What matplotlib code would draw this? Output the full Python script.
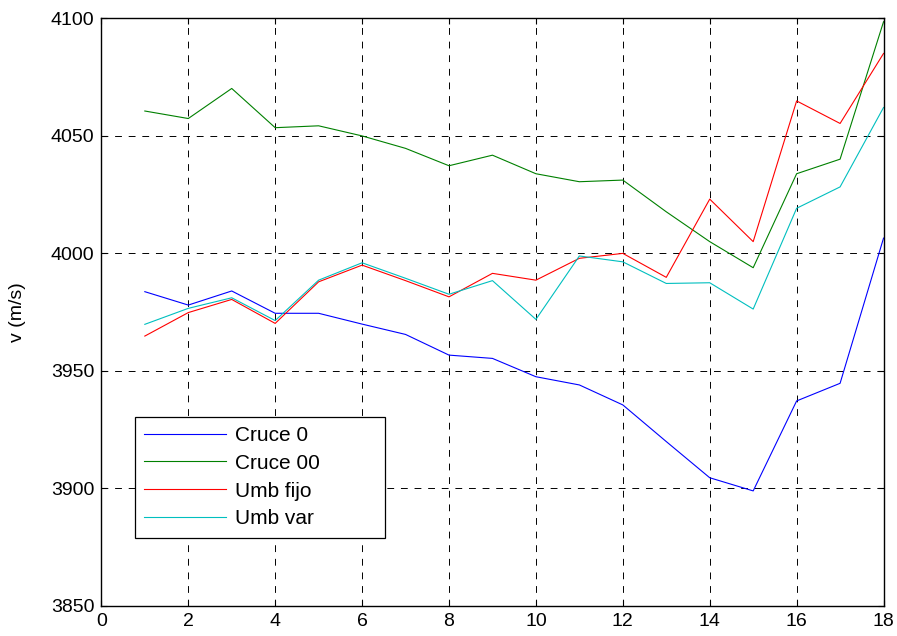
import numpy as np
import matplotlib
matplotlib.use('Agg')
import matplotlib.pyplot as plt

plt.rcParams['font.family'] = ['Liberation Sans', 'DejaVu Sans']

# velocidad estimada por cada metodo de deteccion
x = np.arange(1, 19)
cruce_0 = [3983.7, 3978.0, 3984.0, 3974.5, 3974.5, 3969.9, 3965.5, 3956.7, 3955.3,
           3947.5, 3944.0, 3935.5, 3919.9, 3904.5, 3898.9, 3937.2, 3944.7, 4006.5]
cruce_00 = [4060.6, 4057.4, 4070.2, 4053.5, 4054.3, 4050.0, 4044.7, 4037.3, 4041.8,
            4033.9, 4030.5, 4031.2, 4017.7, 4005.0, 3993.9, 4033.9, 4040.1, 4098.6]
umb_fijo = [3964.8, 3974.8, 3980.4, 3970.2, 3987.9, 3995.0, 3988.4, 3981.5, 3991.5,
            3988.6, 3997.9, 4000.0, 3989.8, 4023.1, 4005.0, 4064.9, 4055.3, 4085.1]
umb_var = [3969.8, 3976.6, 3981.1, 3971.4, 3988.6, 3996.0, 3989.4, 3982.6, 3988.4,
           3971.9, 3998.9, 3996.4, 3987.2, 3987.5, 3976.3, 4019.2, 4028.3, 4062.1]

series = [(cruce_0, 'Cruce 0', '#0000ff'),
          (cruce_00, 'Cruce 00', '#008000'),
          (umb_fijo, 'Umb fijo', '#ff0000'),
          (umb_var, 'Umb var', '#00bfbf')]

fig = plt.figure(figsize=(8.97, 6.36), dpi=100)
ax = fig.add_axes([0.113, 0.0475, 0.872, 0.9235])

for vals, name, col in series:
    ax.plot(x, vals, color=col, lw=0.8, label=name)

ax.set_xlim(0, 18)
ax.set_ylim(3850, 4100)
ax.set_xticks(np.arange(0, 19, 2))
ax.set_yticks(np.arange(3850, 4101, 50))
ax.grid(True, color='black', linestyle=(0, (7, 7)), lw=0.7)
ax.tick_params(direction='in', length=4, labelsize=14, top=True, right=True,
               pad=5)
for s in ax.spines.values():
    s.set_linewidth(1.0)
ax.set_ylabel('v (m/s)', fontsize=14, labelpad=18)

leg = ax.legend(loc='lower left', bbox_to_anchor=(0.043, 0.116, 0.32, 0.205),
                mode='expand', fontsize=15, fancybox=False, framealpha=1,
                edgecolor='black', handlelength=3.9, borderaxespad=0,
                borderpad=0.45, labelspacing=0.42, handletextpad=0.45)
leg.get_frame().set_linewidth(0.9)

fig.savefig('out.png', dpi=100)
